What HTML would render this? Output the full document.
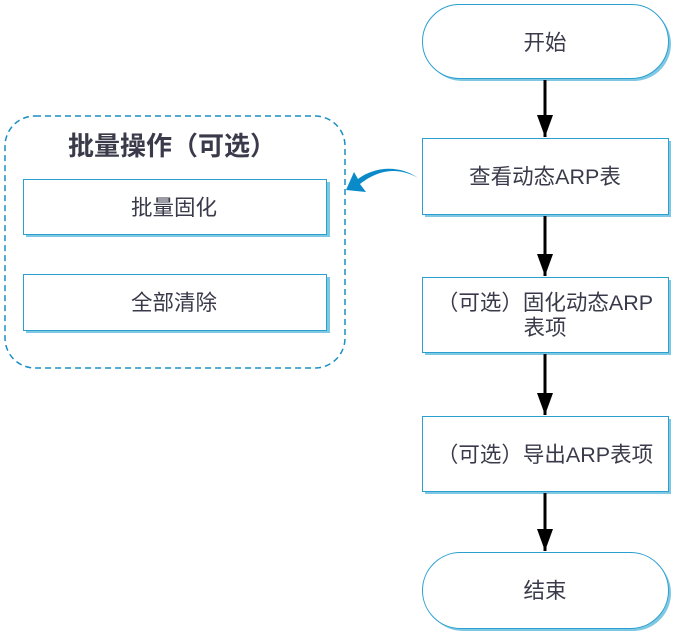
<!DOCTYPE html>
<html><head><meta charset="utf-8"><style>
body{margin:0;background:#fff;width:678px;height:634px;overflow:hidden}
svg text{font-family:"Liberation Sans","Noto Sans CJK SC",sans-serif;fill:#3a3a4a}
</style></head><body>
<svg width="678" height="634" viewBox="0 0 678 634">
<defs>
<marker id="a" markerWidth="22" markerHeight="16" refX="22" refY="8" orient="auto" markerUnits="userSpaceOnUse"><path d="M0,0 L22,8 L0,16 z" fill="#000"/></marker>
</defs>
<g fill="#7ec8e3">
<rect x="425" y="7" width="246" height="74" rx="37"/>
<rect x="425" y="141" width="246" height="76"/>
<rect x="425" y="280" width="246" height="75"/>
<rect x="425" y="419" width="246" height="75"/>
<rect x="425" y="555" width="246" height="76" rx="38"/>
<rect x="26" y="182" width="304" height="55"/>
<rect x="26" y="277" width="304" height="56"/>
</g>
<g fill="#fff" stroke="#2a9fd0" stroke-width="1">
<rect x="422.5" y="4.5" width="246" height="74" rx="37"/>
<rect x="422.5" y="138.5" width="246" height="76"/>
<rect x="422.5" y="277.5" width="246" height="75"/>
<rect x="422.5" y="416.5" width="246" height="75"/>
<rect x="422.5" y="552.5" width="246" height="76" rx="38"/>
<rect x="23.5" y="179.5" width="303" height="55"/>
<rect x="23.5" y="274.5" width="303" height="56"/>
</g>
<rect x="5" y="116" width="340" height="252" rx="30" fill="none" stroke="#1a8fc4" stroke-width="1.5" stroke-dasharray="6,4"/>
<g stroke="#000" stroke-width="3" marker-end="url(#a)">
<line x1="545" y1="80" x2="545" y2="137"/>
<line x1="545" y1="216" x2="545" y2="276"/>
<line x1="545" y1="354" x2="545" y2="415"/>
<line x1="545" y1="493" x2="545" y2="551"/>
</g>
<path d="M418,178 C395,165 375,172 360,184 L366,192 L346,190 L354,172 L358,179 C375,166 400,165 418,178 z" fill="#0a8ac8"/>
<g font-size="21.5" text-anchor="middle">
<text x="545" y="50">开始</text>
<text x="545" y="184">查看动态ARP表</text>
<text x="545" y="310">（可选）固化动态ARP</text>
<text x="545" y="335">表项</text>
<text x="545" y="462">（可选）导出ARP表项</text>
<text x="545" y="598">结束</text>
<text x="174" y="215">批量固化</text>
<text x="174" y="310">全部清除</text>
<text x="172" y="155" font-size="26" font-weight="bold">批量操作（可选）</text>
</g>
</svg>
</body></html>
